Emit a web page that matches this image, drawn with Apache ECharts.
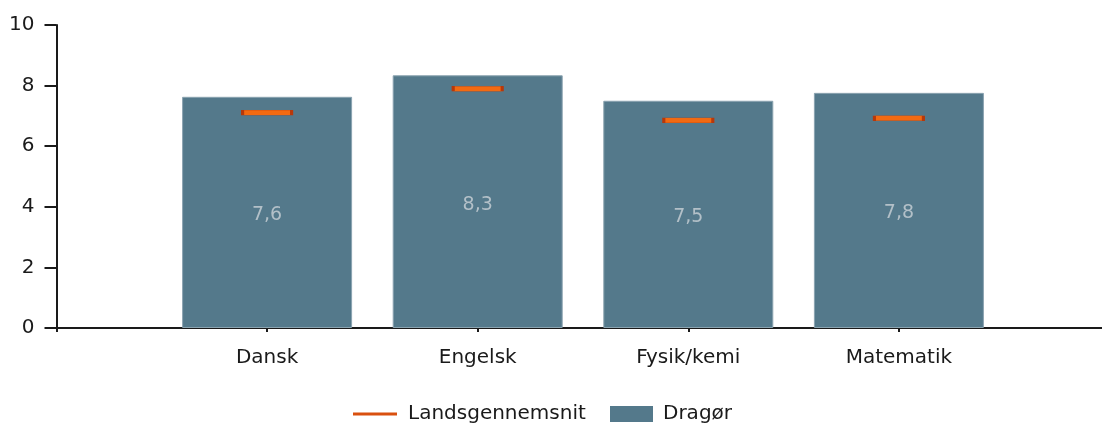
<!DOCTYPE html>
<html>
<head>
<meta charset="utf-8">
<script src="https://cdn.jsdelivr.net/npm/echarts@6/dist/echarts.min.js"></script>
<style>
html,body{margin:0;padding:0;background:#fff;}
#chart{width:1102px;height:425px;}
</style>
</head>
<body>
<div id="chart"></div>
<script>
const categories = ['', 'Dansk', 'Engelsk', 'Fysik/kemi', 'Matematik', ''];
const dragoer = ['-', 7.63, 8.34, 7.50, 7.76, '-'];
const landsgennemsnit = ['-', 7.11, 7.90, 6.85, 6.92, '-'];
const yTicks = [0, 2, 4, 6, 8, 10];

const FONT = '"DejaVu Sans", Verdana, sans-serif';
const chart = echarts.init(document.getElementById('chart'), null, {renderer: 'canvas'});
chart.setOption({
  animation: false,
  backgroundColor: '#ffffff',
  grid: {left: 56.5, top: 25, bottom: 97, width: 1053, containLabel: false, outerBoundsMode: 'none'},
  xAxis: {
    type: 'category',
    data: categories,
    boundaryGap: false,
    axisLine: {lineStyle: {color: '#1a1a1a', width: 2}},
    axisTick: {length: 4, interval: (i) => i < 5, lineStyle: {color: '#1a1a1a', width: 2}},
    axisLabel: {color: '#1a1a1a', fontFamily: FONT, fontSize: 20, margin: 20}
  },
  yAxis: {
    type: 'value',
    min: yTicks[0],
    max: yTicks[yTicks.length - 1],
    interval: 2,
    splitLine: {show: false},
    axisLine: {show: true, lineStyle: {color: '#1a1a1a', width: 2}},
    axisTick: {show: true, length: 12, lineStyle: {color: '#1a1a1a', width: 2}},
    axisLabel: {color: '#1a1a1a', fontFamily: FONT, fontSize: 20, margin: 22}
  },
  legend: [
    {
      data: [{name: 'Landsgennemsnit', icon: 'rect', itemStyle: {color: '#d9500f', borderWidth: 0}}],
      left: 353, top: 404, padding: 0, itemWidth: 44, itemHeight: 3,
      textStyle: {color: '#1a1a1a', fontFamily: FONT, fontSize: 20, padding: [0, 0, 0, 6]}
    },
    {
      data: [{name: 'Dragør', icon: 'rect', itemStyle: {borderWidth: 0}}],
      left: 610, top: 404, padding: 0, itemWidth: 43, itemHeight: 16,
      textStyle: {color: '#1a1a1a', fontFamily: FONT, fontSize: 20, padding: [0, 0, 0, 5]}
    }
  ],
  series: [
    {
      name: 'Dragør',
      type: 'bar',
      data: dragoer,
      barWidth: 170,
      itemStyle: {color: '#54798b', borderColor: '#8aa3b0', borderWidth: 1},
      label: {
        show: true, position: 'inside', color: '#b3c0c8', offset: [0, 3],
        fontFamily: FONT, fontSize: 19,
        formatter: p => p.value.toFixed(1).replace('.', ',')
      },
      z: 2
    },
    {
      name: 'Landsgennemsnit',
      type: 'scatter',
      data: landsgennemsnit,
      symbol: 'rect',
      symbolSize: [49, 5],
      itemStyle: {color: '#f26a12', borderColor: '#b8380a', borderWidth: 1, opacity: 1},
      z: 5
    }
  ]
});
</script>
</body>
</html>
